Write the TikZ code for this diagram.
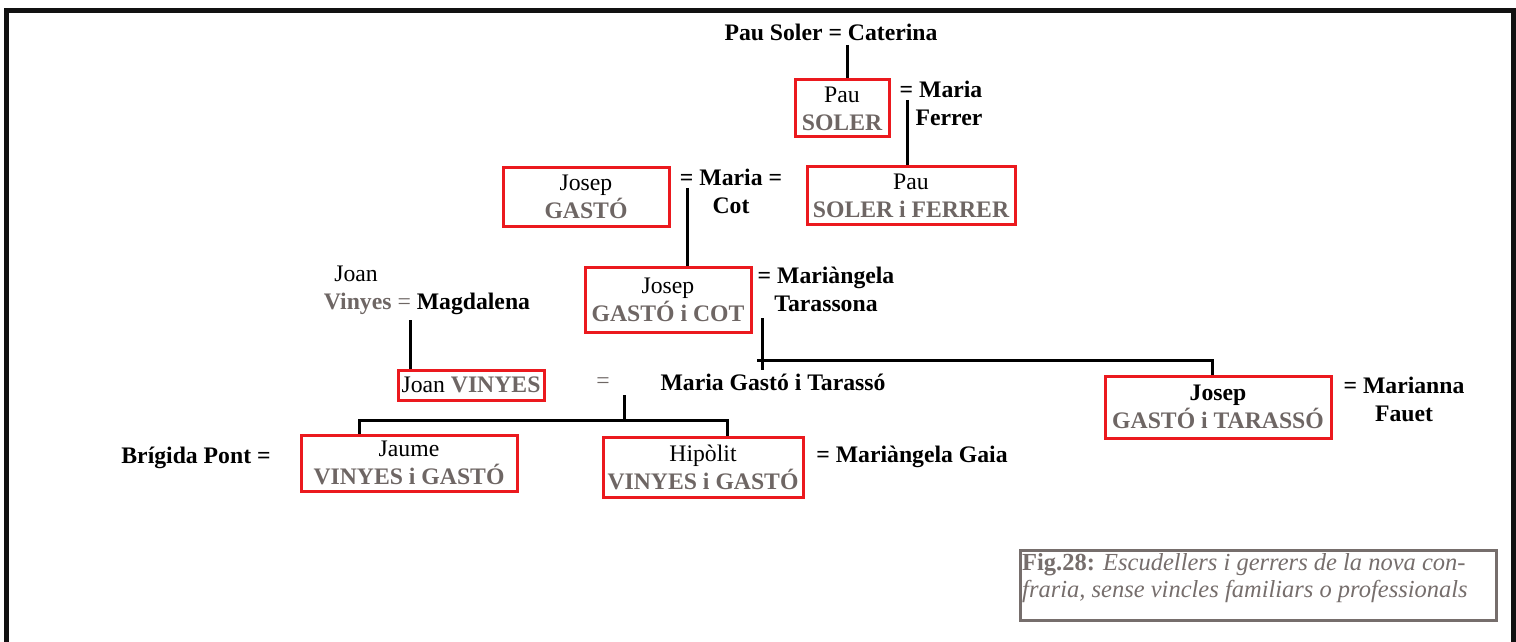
\documentclass[tikz,border=0pt]{standalone}
\usepackage{fontspec}
\setmainfont{Liberation Serif}
\definecolor{namegray}{RGB}{110,102,100}
\definecolor{boxred}{RGB}{235,25,30}
\definecolor{capgray}{RGB}{118,110,108}
\definecolor{framecol}{RGB}{17,17,17}
\newcommand{\surn}[1]{{\bfseries\color{namegray}#1}}
\begin{document}
\begin{tikzpicture}[x=1bp,y=-1bp,
  every node/.style={font=\fontsize{23.7bp}{28bp}\selectfont, inner sep=0pt},
  pbox/.style={draw=boxred, line width=3bp, align=center, inner sep=0pt},
  spouse/.style={align=center, font=\fontsize{23.7bp}{28bp}\selectfont\bfseries},
  link/.style={line width=3bp, black},
  frame/.style={line width=5bp, framecol},
  capbox/.style={draw=capgray, line width=3bp, inner sep=0pt}]
\useasboundingbox (0,0) rectangle (1516,642);
% frame
\draw[frame] (6.5,642) -- (6.5,10.5) -- (1513.5,10.5) -- (1513.5,642);

% person boxes
\node[pbox, minimum width=94bp, minimum height=57bp] (pau) at (842,108.5) {Pau\\\surn{SOLER}};
\node[pbox, minimum width=208bp, minimum height=57bp] (psf) at (911,195.5) {Pau\\\surn{SOLER i FERRER}};
\node[pbox, minimum width=166bp, minimum height=58bp] (jg) at (586,197) {Josep\\\surn{GASTÓ}};
\node[pbox, minimum width=166bp, minimum height=65bp] (jgc) at (668,299.5) {Josep\\\surn{GASTÓ i COT}};
\node[pbox, minimum width=146bp, minimum height=30bp] (jv) at (471,385) {Joan \surn{VINYES}};
\node[pbox, minimum width=216bp, minimum height=56bp] (jaume) at (409,463) {Jaume\\\surn{VINYES i GASTÓ}};
\node[pbox, minimum width=200bp, minimum height=60bp] (hip) at (703,467) {Hipòlit\\\surn{VINYES i GASTÓ}};
\node[pbox, minimum width=226bp, minimum height=62bp] (jgt) at (1218,407) {\textbf{Josep}\\\surn{GASTÓ i TARASSÓ}};

% text labels
\node[spouse] (ps) at (831,32) {Pau Soler = Caterina};
\node[spouse, align=right] (mf) at (941,103.5) {= Maria\\Ferrer};
\node[spouse] (mc) at (731,191) {= Maria =\\Cot};
\node[spouse] (mt) at (826,289) {= Mariàngela\\Tarassona};
\node (joan1) at (356,274) {Joan};
\node (joan2) at (427,304) {\surn{Vinyes} {\color{namegray}=} \textbf{Magdalena}};
\node (eq) at (603,383) {\color{namegray}=};
\node[spouse] (mgt) at (773,382) {Maria Gastó i Tarassó};
\node[spouse] (bp) at (196,458) {Brígida Pont =};
\node[spouse] (mg) at (912,457) {= Mariàngela Gaia};
\node[spouse] (mm) at (1404,399) {= Marianna\\Fauet};

% caption
\node[capbox, minimum width=476bp, minimum height=70bp] (cap) at (1258,585) {};
\node[anchor=north west, align=left, text=capgray,
  font=\fontsize{24.5bp}{27bp}\selectfont] (captext) at (1022,553)
  {\textbf{Fig.28:} \textit{Escudellers i gerrers de la nova con-}\\\textit{fraria, sense vincles familiars o professionals}};

% connectors
\coordinate (c1) at (847,45);
\draw[link] (c1) -- (c1 |- pau.north);
\coordinate (c2) at (907,100);
\draw[link] (c2) -- (c2 |- psf.north);
\coordinate (c3) at (687,188);
\draw[link] (c3) -- (c3 |- jgc.north);
\coordinate (c4) at (410,320);
\draw[link] (c4) -- (c4 |- jv.north);
\coordinate (c5) at (762,318);
\coordinate (c5b) at (762,370);
\draw[link] (c5) -- (c5b);
\coordinate (c6) at (757,360);
\coordinate (c6b) at (1212,360);
\draw[link] (c6) -- (c6b) -- (c6b |- jgt.north);
\coordinate (c7) at (624,395);
\coordinate (c7b) at (624,420);
\draw[link] (c7) -- (c7b);
\coordinate (c8) at (359,420);
\coordinate (c9) at (727,420);
\draw[link] (c8 |- jaume.north) -- (c8) -- (c9) -- (c9 |- hip.north);
\end{tikzpicture}
\end{document}
